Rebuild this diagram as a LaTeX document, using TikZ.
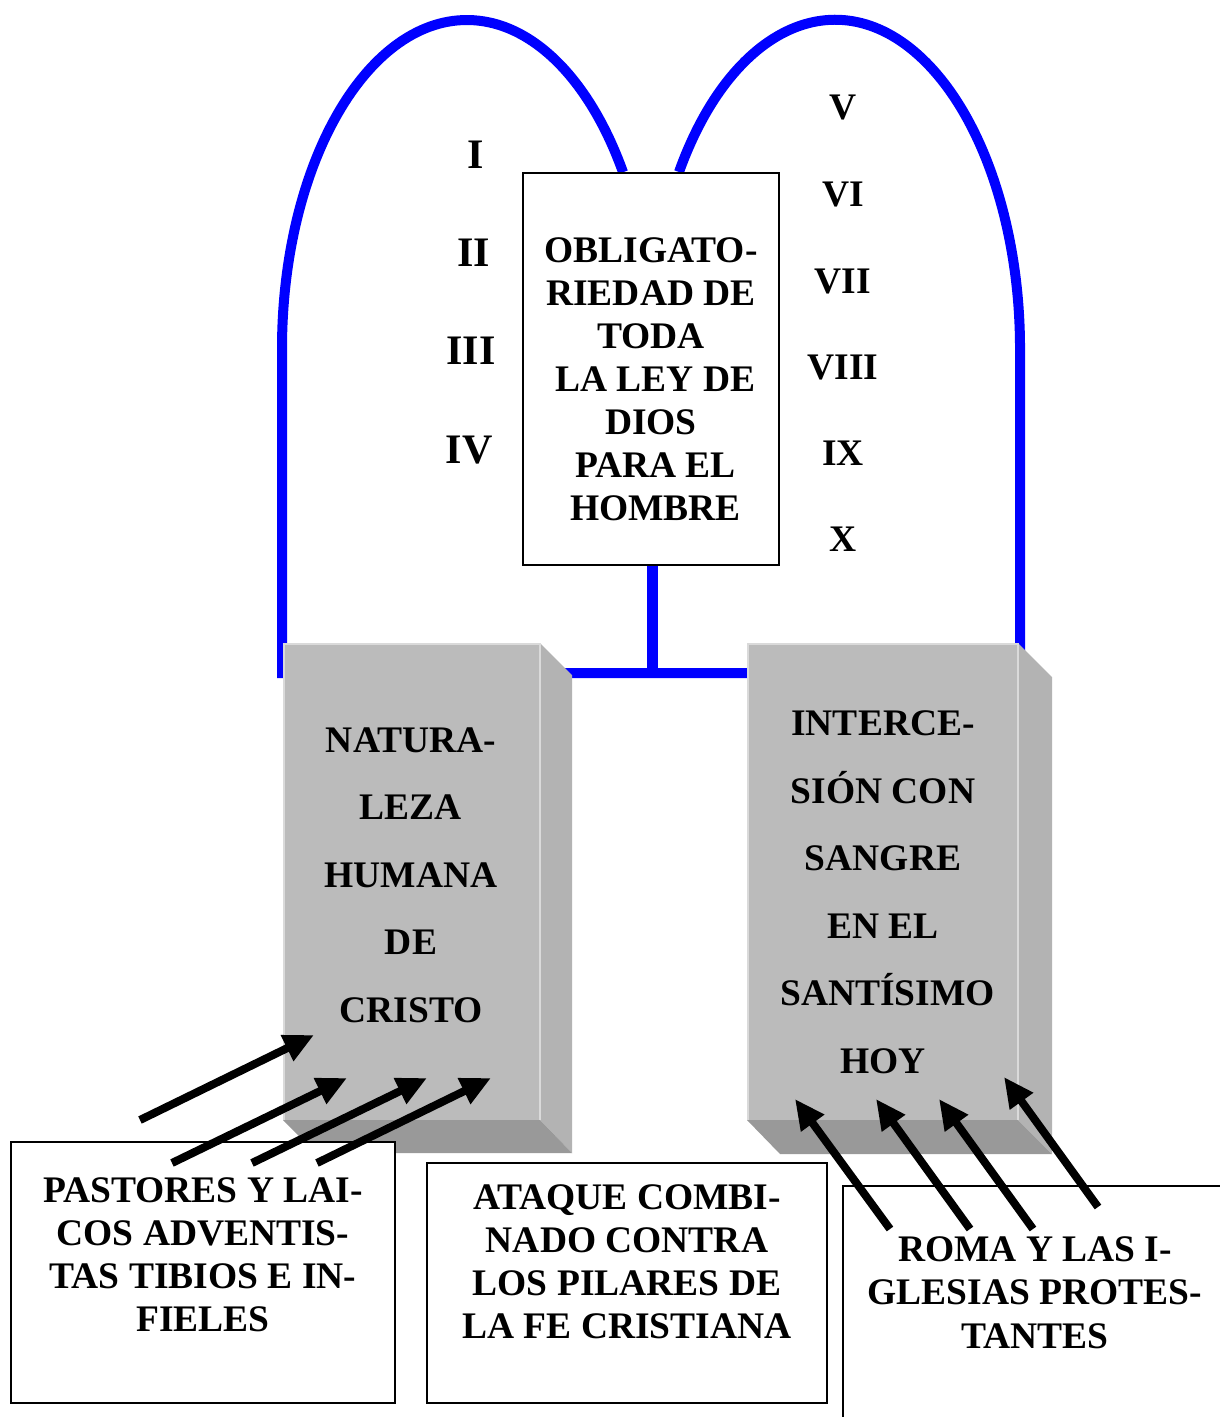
\documentclass[tikz,border=0pt]{standalone}
\usepackage{fontspec}
\setmainfont{Liberation Serif}
\usetikzlibrary{arrows.meta}
\definecolor{pfront}{HTML}{BBBBBB}
\definecolor{pside}{HTML}{B3B3B3}
\definecolor{pbottom}{HTML}{999999}
\definecolor{phigh}{HTML}{DADADA}
\definecolor{archblue}{HTML}{0000FF}
\begin{document}
\begin{tikzpicture}[x=1pt,y=-1pt,
  archline/.style={draw=archblue,line width=10pt,line join=miter},
  frame/.style={draw=black,line width=2pt,fill=white,inner sep=0pt},
  lbl/.style={font=\fontsize{37.5}{43}\selectfont\bfseries,align=center,inner sep=0pt},
  pillartxt/.style={font=\fontsize{37.5}{67.5}\selectfont\bfseries,align=center,inner sep=0pt},
  numl/.style={font=\fontsize{42}{43}\selectfont\bfseries,inner sep=0pt},
  numr/.style={font=\fontsize{37.5}{43}\selectfont\bfseries,inner sep=0pt},
  attack/.style={draw=black,line width=8pt,-{Triangle[length=30pt,width=27pt]}}]
\useasboundingbox (0,0) rectangle (1219,1417);
\fill[white] (0,0) rectangle (1219,1417);

% blue tablets outline
\draw[archline] (1020,673) -- (282,673) -- (282,349)
  arc[start angle=180,end angle=327.5,x radius=185,y radius=329];
\draw[archline] (679,172)
  arc[start angle=212.5,end angle=360,x radius=185,y radius=329] -- (1020,673);
\coordinate (junction) at (652,673);

% central box
\node[frame,minimum width=256pt,minimum height=392pt] (ley) at (651,369) {};
\draw[draw=archblue,line width=11pt] (ley.south -| junction) -- (junction);
\node[lbl] (leytxt) at (651,379) {OBLIGATO-\\RIEDAD DE\\TODA\\\hspace*{9pt}LA LEY DE\\DIOS\\\hspace*{9pt}PARA EL\\\hspace*{9pt}HOMBRE};

% roman numerals
\node[numl] (n1) at (476,155) {I};
\node[numl] (n2) at (474,253) {II};
\node[numl] (n3) at (471,351) {III};
\node[numl] (n4) at (469,450) {IV};
\node[numr] (n5) at (843,108) {V};
\node[numr] (n6) at (843,195) {VI};
\node[numr] (n7) at (843,281) {VII};
\node[numr] (n8) at (843,367) {VIII};
\node[numr] (n9) at (843,453) {IX};
\node[numr] (n10) at (843,539) {X};

% left pillar
\fill[pside] (540,643) -- (572,675) -- (572,1153) -- (540,1120) -- cycle;
\fill[pbottom] (283,1120) -- (540,1120) -- (572,1153) -- (316,1153) -- cycle;
\fill[pfront] (283,643) rectangle (540,1120);
\draw[phigh,line width=2pt] (284,1120) -- (284,644) -- (540,644) -- (540,1120);
\node[pillartxt] (natura) at (411,875) {NATURA-\\LEZA\\HUMANA\\DE\\CRISTO};

% right pillar
\fill[pside] (1018,643) -- (1052,677) -- (1052,1154) -- (1018,1120) -- cycle;
\fill[pbottom] (747,1120) -- (1018,1120) -- (1052,1154) -- (780,1154) -- cycle;
\fill[pfront] (747,643) rectangle (1018,1120);
\draw[phigh,line width=2pt] (748,1120) -- (748,644) -- (1018,644) -- (1018,1120);
\node[pillartxt] (interc) at (883,892.5) {INTERCE-\\SIÓN CON\\SANGRE\\EN EL\\\hspace*{9pt}SANTÍSIMO\\HOY};

% bottom boxes
\node[frame,minimum width=384pt,minimum height=261pt] (boxl) at (203,1272.5) {};
\node[lbl] (pastores) at (203,1254.5) {PASTORES Y LAI-\\COS ADVENTIS-\\TAS TIBIOS E IN-\\FIELES};
\node[frame,minimum width=400pt,minimum height=240pt] (boxm) at (627,1283) {};
\node[lbl] (ataque) at (627,1261.5) {ATAQUE COMBI-\\NADO CONTRA\\LOS PILARES DE\\LA FE CRISTIANA};
\node[frame,minimum width=396pt,minimum height=251pt] (boxr) at (1041,1311.5) {};
\node[lbl,font=\fontsize{37.5}{43.5}\selectfont\bfseries] (roma) at (1035,1292.5) {ROMA Y LAS I-\\GLESIAS PROTES-\\TANTES};

% arrows left
\coordinate (lt1) at (140,1120); \coordinate (lh1) at (314,1035);
\coordinate (lt2) at (172,1163); \coordinate (lh2) at (347,1078);
\coordinate (lt3) at (252,1163); \coordinate (lh3) at (427,1078);
\coordinate (lt4) at (317,1163); \coordinate (lh4) at (491,1078);
\foreach \i in {1,2,3,4} \draw[attack] (lt\i) -- (lh\i);

% arrows right
\coordinate (rt1) at (890,1229); \coordinate (rh1) at (795,1099);
\coordinate (rt2) at (970,1229); \coordinate (rh2) at (876,1099);
\coordinate (rt3) at (1033,1229); \coordinate (rh3) at (939,1099);
\coordinate (rt4) at (1098,1207); \coordinate (rh4) at (1004,1077);
\foreach \i in {1,2,3,4} \draw[attack] (rt\i) -- (rh\i);
\end{tikzpicture}
\end{document}
